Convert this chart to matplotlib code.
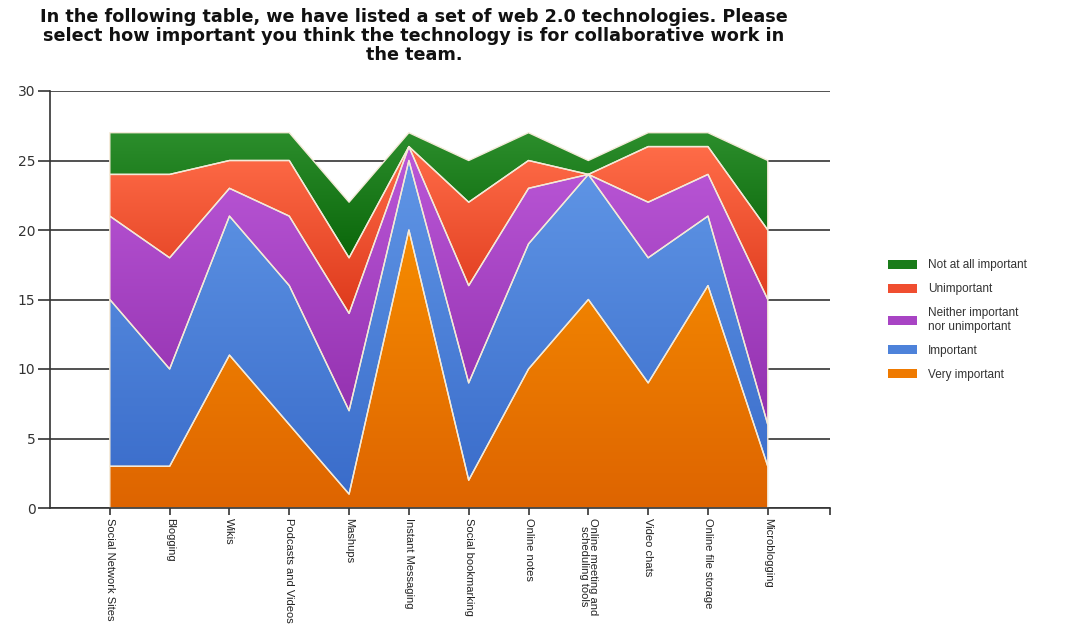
"""Stacked area chart: importance of web 2.0 technologies for team collaboration."""

import matplotlib
matplotlib.use("Agg")
import matplotlib.pyplot as plt
import numpy as np
from matplotlib.colors import LinearSegmentedColormap
from matplotlib.patches import Patch

categories = [
    "Social Network Sites", "Blogging", "Wikis", "Podcasts and Videos",
    "Mashups", "Instant Messaging", "Social bookmarking", "Online notes",
    "Online meeting and\nscheduling tools", "Video chats",
    "Online file storage", "Microblogging",
]
very_important = [3, 3, 11, 6, 1, 20, 2, 10, 15, 9, 16, 3]
important = [12, 7, 10, 10, 6, 5, 7, 9, 9, 9, 5, 3]
neither = [6, 8, 2, 5, 7, 1, 7, 4, 0, 4, 3, 9]
unimportant = [3, 6, 2, 4, 4, 0, 6, 2, 0, 4, 2, 5]
not_at_all = [3, 3, 2, 2, 4, 1, 3, 2, 1, 1, 1, 5]

series_labels = ["Very important", "Important", "Neither important\nnor unimportant",
                 "Unimportant", "Not at all important"]
# (bottom colour, top colour) for the vertical gradient in each layer
gradients = [
    ("#de6400", "#f68c00"),
    ("#3a6cca", "#6096e6"),
    ("#9230ae", "#bb58d8"),
    ("#de3a1c", "#ff6c48"),
    ("#0a660a", "#2c8e2c"),
]
flat_colors = ["#ef7a00", "#4d82da", "#a844c4", "#f04e30", "#1a7c1a"]

fig = plt.figure(figsize=(10.66, 6.29), dpi=100)
ax = fig.add_axes([50 / 1066, 1 - 508 / 629, 780 / 1066, 417 / 629])

x = np.arange(len(categories))
polys = ax.stackplot(x, very_important, important, neither, unimportant, not_at_all,
                     colors=flat_colors, edgecolor="#f4ead8", linewidth=1.0)

# vertical gradient fill clipped to each layer
for poly, (c_lo, c_hi) in zip(polys, gradients):
    path = poly.get_paths()[0]
    ext = path.get_extents()
    cmap = LinearSegmentedColormap.from_list("g", [c_lo, c_hi])
    im = ax.imshow(np.linspace(1, 0, 256).reshape(-1, 1), cmap=cmap, aspect="auto",
                   extent=[ext.x0, ext.x1, ext.y0, ext.y1], zorder=1.5,
                   interpolation="bilinear")
    im.set_clip_path(path, transform=ax.transData)
    poly.set_facecolor("none")
    poly.set_zorder(2)

ax.set_xlim(-1, 12.04)
ax.set_ylim(0, 30)
ax.set_yticks(range(0, 31, 5))
ax.set_xticks(x)
ax.set_xticklabels(categories, rotation=-90, fontsize=8, color="#222222",
                   family="Liberation Sans", va="top", ha="center", linespacing=0.95)
ax.set_xticks([12.04], minor=True)
for lab in ax.get_yticklabels():
    lab.set_family("DejaVu Sans")
ax.tick_params(axis="y", length=8.5, width=1.2, color="#333333", labelsize=10,
               pad=2, labelcolor="#333333")
ax.tick_params(axis="x", which="both", length=5, width=1.2, color="#333333", pad=2)

ax.set_axisbelow(True)
ax.grid(axis="y", color="#333333", linewidth=1.2)
for side in ("top", "right"):
    ax.spines[side].set_visible(False)
for side in ("left", "bottom"):
    ax.spines[side].set_color("#333333")
    ax.spines[side].set_linewidth(1.2)

fig.text(414 / 1066, 0.987,
         "In the following table, we have listed a set of web 2.0 technologies. Please\n"
         "select how important you think the technology is for collaborative work in\n"
         "the team.",
         ha="center", va="top", fontsize=12.7, fontweight="bold",
         family="DejaVu Sans", linespacing=1.08, color="#111111")

handles = [Patch(facecolor=c, edgecolor="none") for c in flat_colors][::-1]
fig.legend(handles, series_labels[::-1], loc="center left",
           bbox_to_anchor=(877 / 1066, 1 - 320 / 629), frameon=False,
           prop={"family": "Liberation Sans", "size": 8.5},
           handlelength=2.5, handleheight=0.8, handletextpad=0.9,
           labelspacing=1.0, labelcolor="#333333")

fig.savefig("out.png", dpi=100)
